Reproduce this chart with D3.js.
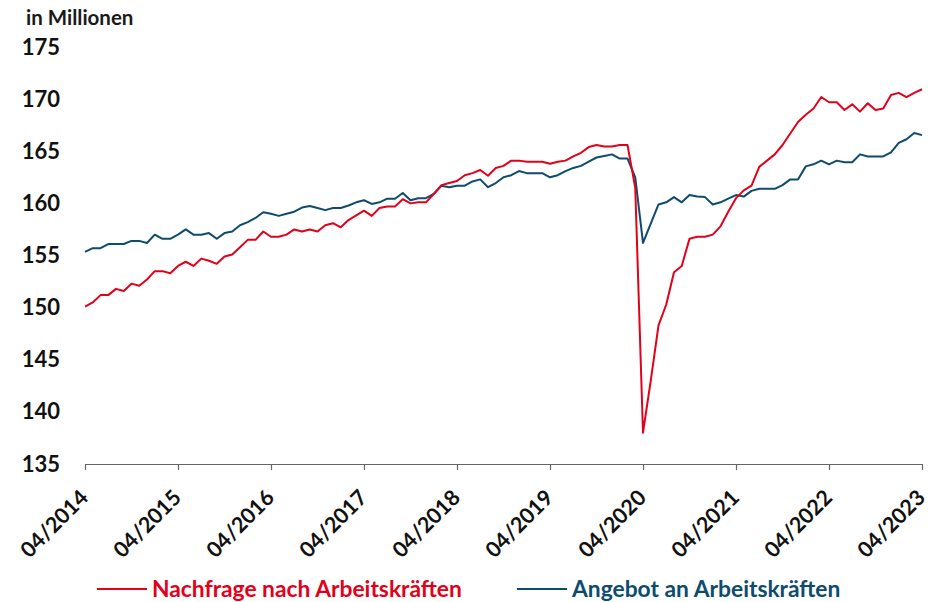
<!DOCTYPE html>
<html>
<head>
<meta charset="utf-8">
<script src="https://cdn.jsdelivr.net/npm/d3@7"></script>
<style>
  body { margin: 0; background: #fff; }
  svg { display: block; font-family: Lato, "Open Sans", sans-serif; font-weight: 700; }
</style>
</head>
<body>
<svg width="930" height="602"></svg>
<script>
// monthly values, 04/2014 .. 04/2023 (in Millionen)
const nachfrage = [
	150.1, 150.5, 151.2, 151.2, 151.8, 151.6, 152.3, 152.1, 152.7, 153.5, 153.5, 153.3,
	154.0, 154.4, 154.0, 154.7, 154.5, 154.2, 154.9, 155.1, 155.8, 156.5, 156.5, 157.3,
	156.8, 156.8, 157.0, 157.5, 157.3, 157.5, 157.3, 157.9, 158.1, 157.7, 158.4, 158.85,
	159.3, 158.8, 159.55, 159.7, 159.7, 160.4, 160.0, 160.1, 160.1, 160.9, 161.75, 161.95,
	162.15, 162.7, 162.9, 163.2, 162.65, 163.4, 163.6, 164.1, 164.1, 164.0, 164.0, 164.0,
	163.8, 164.0, 164.1, 164.5, 164.85, 165.4, 165.6, 165.45, 165.45, 165.6, 165.6, 161.5,
	138.0, 143.0, 148.3, 150.3, 153.4, 154.0, 156.6, 156.8, 156.8, 157.0, 157.8, 159.2,
	160.5, 161.25, 161.7, 163.5, 164.1, 164.7, 165.6, 166.7, 167.8, 168.5, 169.1, 170.2,
	169.7, 169.7, 168.95, 169.5, 168.8, 169.6, 168.95, 169.1, 170.4, 170.6, 170.2, 170.6,
	170.95
];

const angebot = [
	155.35, 155.7, 155.7, 156.1, 156.1, 156.1, 156.4, 156.4, 156.2, 157.0, 156.6, 156.6,
	157.0, 157.5, 157.0, 157.0, 157.15, 156.6, 157.15, 157.3, 157.9, 158.2, 158.6, 159.15,
	159.0, 158.8, 159.0, 159.2, 159.6, 159.75, 159.55, 159.35, 159.55, 159.55, 159.8, 160.1,
	160.3, 159.95, 160.1, 160.45, 160.45, 161.0, 160.3, 160.5, 160.5, 160.9, 161.7, 161.55,
	161.7, 161.7, 162.1, 162.3, 161.55, 161.95, 162.5, 162.7, 163.1, 162.9, 162.9, 162.9,
	162.5, 162.7, 163.1, 163.4, 163.6, 164.0, 164.4, 164.55, 164.7, 164.3, 164.3, 162.5,
	156.2, 158.05, 159.9, 160.1, 160.6, 160.1, 160.8, 160.65, 160.6, 159.9, 160.1, 160.45,
	160.8, 160.65, 161.2, 161.4, 161.4, 161.4, 161.75, 162.3, 162.3, 163.55, 163.75, 164.1,
	163.75, 164.1, 163.95, 163.95, 164.7, 164.5, 164.5, 164.5, 164.9, 165.8, 166.15, 166.75,
	166.55
];

const tickLabels = ["04/2014", "04/2015", "04/2016", "04/2017", "04/2018",
	"04/2019", "04/2020", "04/2021", "04/2022", "04/2023"];
const yTicks = [135, 140, 145, 150, 155, 160, 165, 170, 175];

const legendItems = [
	{ name: "Nachfrage nach Arbeitskräften", color: "#e2001a", x: 97 },
	{ name: "Angebot an Arbeitskräften", color: "#0d4c6d", x: 517 }
];

const svg = d3.select("svg");

const x = d3.scaleLinear().domain([0, nachfrage.length - 1]).range([85, 922]);
const y = d3.scaleLinear().domain([135, 175]).range([464, 47]);

// title
svg.append("text")
	.attr("x", 26).attr("y", 25)
	.attr("font-size", 20.5)
	.attr("fill", "#1a1a1a")
	.text("in Millionen");

// y axis (labels only)
const yAxis = svg.append("g")
	.attr("transform", "translate(85,0)")
	.call(d3.axisLeft(y).tickValues(yTicks).tickSize(0).tickPadding(25));
yAxis.select(".domain").remove();
yAxis.selectAll("text")
	.attr("font-size", 22)
	.attr("font-family", "Lato, sans-serif")
	.attr("font-weight", 700)
	.attr("fill", "#111");

// x axis
const xAxis = svg.append("g")
	.attr("transform", "translate(0,464)")
	.call(d3.axisBottom(x)
		.tickValues(d3.range(0, nachfrage.length, 12))
		.tickFormat((d, i) => tickLabels[i])
		.tickSize(6)
		.tickSizeOuter(0));
xAxis.select(".domain").attr("stroke", "#666").attr("stroke-width", 1.2);
xAxis.selectAll(".tick line").attr("stroke", "#666").attr("stroke-width", 1.2);
xAxis.selectAll("text")
	.attr("font-size", 21.5)
	.attr("font-family", "Lato, sans-serif")
	.attr("font-weight", 700)
	.attr("fill", "#111")
	.attr("text-anchor", "end")
	.attr("dy", null)
	.attr("y", null)
	.attr("transform", "translate(4,35) rotate(-45)");

// lines
const line = d3.line()
	.x((d, i) => x(i))
	.y(d => y(d));

svg.append("path")
	.datum(angebot)
	.attr("fill", "none")
	.attr("stroke", legendItems[1].color)
	.attr("stroke-width", 2)
	.attr("stroke-linejoin", "round")
	.attr("d", line);

svg.append("path")
	.datum(nachfrage)
	.attr("fill", "none")
	.attr("stroke", legendItems[0].color)
	.attr("stroke-width", 2)
	.attr("stroke-linejoin", "round")
	.attr("d", line);

// legend
const legend = svg.append("g").selectAll("g")
	.data(legendItems)
	.join("g")
	.attr("transform", d => `translate(${d.x},589)`);

legend.append("line")
	.attr("x1", 0).attr("x2", 50)
	.attr("stroke", d => d.color)
	.attr("stroke-width", 2);

legend.append("text")
	.attr("x", 55).attr("y", 8)
	.attr("font-size", 22.8)
	.attr("fill", d => d.color)
	.text(d => d.name);
</script>
</body>
</html>
